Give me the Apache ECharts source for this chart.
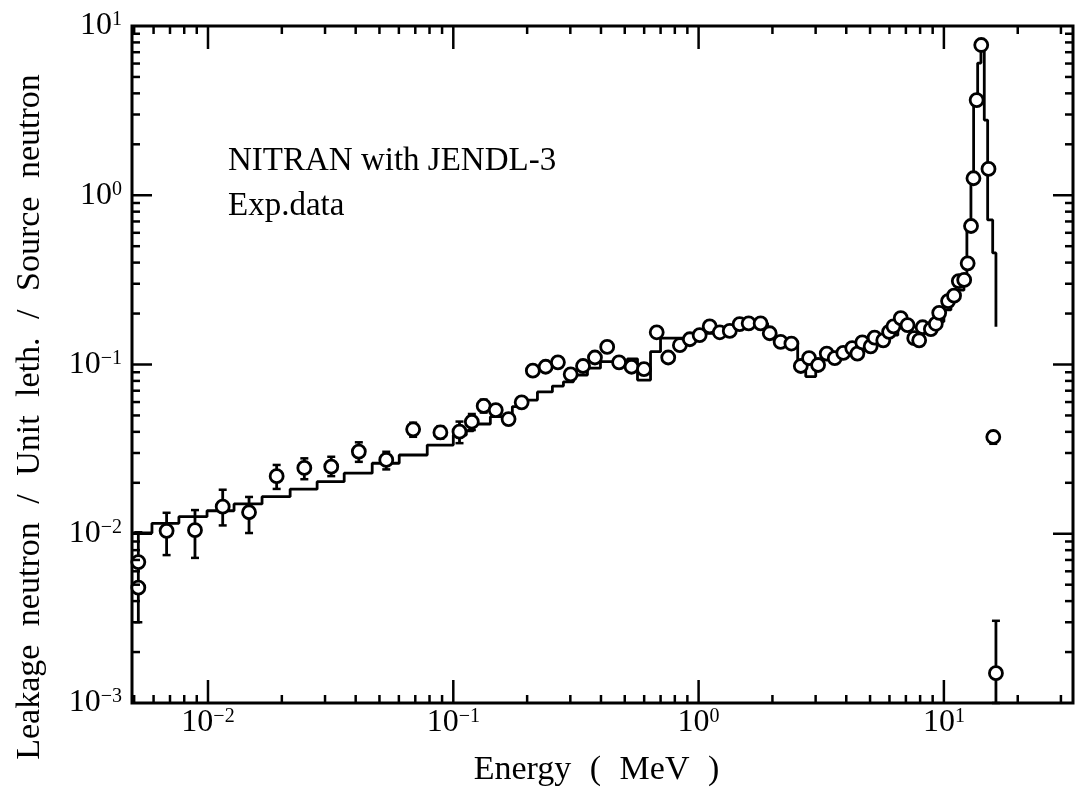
<!DOCTYPE html>
<html><head><meta charset="utf-8">
<script src="https://cdn.jsdelivr.net/npm/echarts@6/dist/echarts.min.js"></script>
<style>html,body{margin:0;padding:0;background:#fff}#c{width:1075px;height:793px}</style>
</head><body><div id="c"></div>
<script>
// Calculation (NITRAN with JENDL-3): histogram bin edges (MeV) and values
const calcEdges = [0.0049,0.00591,0.00761,0.00991,0.01277,0.01661,0.02162,0.02785,0.03591,0.04671,0.0602,0.0783,0.1,0.113,0.1207,0.1416,0.1741,0.1967,0.2203,0.2535,0.2812,0.3089,0.3523,0.3981,0.5131,0.5636,0.6369,0.6996,1.019,1.196,1.39,1.912,2.023,2.374,2.535,2.734,3.003,3.237,3.798,4.457,5.036,5.689,6.491,7.332,8.285,9.104,10.0,10.68,11.41,12.07,12.41,12.89,13.22,13.73,14.16,14.61,15.08,15.81,16.3];
const calcValues = [0.0101,0.01153,0.01262,0.01367,0.0150,0.01656,0.01835,0.0203,0.0228,0.0261,0.0292,0.0334,0.0383,0.0406,0.0445,0.0492,0.0564,0.0616,0.0689,0.0746,0.0790,0.0867,0.0951,0.104,0.108,0.0809,0.119,0.143,0.153,0.160,0.175,0.153,0.140,0.134,0.0993,0.0848,0.102,0.114,0.122,0.130,0.140,0.149,0.164,0.150,0.167,0.179,0.210,0.240,0.275,0.315,0.686,1.28,3.51,6.04,7.52,2.78,0.715,0.456];
const calcTail = 0.167;

// Experimental data
const expE = [0.0052,0.0052,0.00678,0.00885,0.01148,0.0147,0.01905,0.0247,0.0318,0.0412,0.0533,0.0686,0.0886,0.106,0.119,0.133,0.149,0.168,0.190,0.211,0.238,0.267,0.301,0.338,0.378,0.424,0.474,0.533,0.599,0.675,0.752,0.839,0.921,1.01,1.11,1.22,1.34,1.47,1.60,1.79,1.95,2.16,2.39,2.61,2.82,3.07,3.33,3.59,3.89,4.23,4.44,4.65,5.03,5.22,5.66,5.98,6.23,6.67,7.11,7.57,7.93,8.19,8.85,9.27,9.57,10.4,11.0,11.5,12.1,12.5,12.9,13.2,13.6,14.2,15.2,15.9,16.3];
const expV = [0.0068,0.0048,0.0104,0.0105,0.01445,0.0134,0.0219,0.0245,0.0249,0.0306,0.0273,0.0414,0.0397,0.0401,0.0459,0.0569,0.0538,0.0476,0.0598,0.0920,0.097,0.103,0.0875,0.098,0.110,0.127,0.103,0.097,0.0938,0.155,0.110,0.130,0.141,0.149,0.168,0.155,0.158,0.173,0.175,0.175,0.153,0.136,0.133,0.098,0.109,0.0993,0.116,0.109,0.117,0.125,0.116,0.135,0.128,0.144,0.139,0.156,0.168,0.188,0.171,0.143,0.139,0.166,0.162,0.174,0.202,0.237,0.255,0.311,0.316,0.396,0.658,1.26,3.65,7.72,1.43,0.0373,0.0015];

// Error bars
const errE  = [0.0052,0.00678,0.00885,0.01148,0.0147,0.01905,0.0247,0.0318,0.0412,0.0533,0.0686,0.0886,0.106,0.119,0.133,0.599,15.9,16.3];
const errLo = [0.0030,0.00748,0.0072,0.0112,0.0101,0.0184,0.0210,0.0219,0.0266,0.0240,0.0374,0.0365,0.0343,0.041,0.052,0.087,0.034,0.001];
const errHi = [0.0102,0.0133,0.0138,0.0182,0.0165,0.0255,0.0279,0.0285,0.0347,0.0305,0.0453,0.0432,0.046,0.051,0.062,0.101,0.040,0.00306];

// Axis ranges and ticks
const xRange = [0.0049, 33.6];
const yRange = [0.001, 10];
const xMajorTicks = [0.01, 0.1, 1, 10];
const xMinorTicks = [0.005,0.006,0.007,0.008,0.009,0.02,0.03,0.04,0.05,0.06,0.07,0.08,0.09,0.2,0.3,0.4,0.5,0.6,0.7,0.8,0.9,2,3,4,5,6,7,8,9,20,30];
const yMajorTicks = [0.01, 0.1, 1];
const yMinorTicks = [0.002,0.003,0.004,0.005,0.006,0.007,0.008,0.009,0.02,0.03,0.04,0.05,0.06,0.07,0.08,0.09,0.2,0.3,0.4,0.5,0.6,0.7,0.8,0.9,2,3,4,5,6,7,8,9];

const SERIF = 'Liberation Serif';
const calcLine = [];
for (let i = 0; i < calcValues.length; i++) {
  calcLine.push([calcEdges[i], calcValues[i]]);
  calcLine.push([calcEdges[i + 1], calcValues[i]]);
}
calcLine.push([calcEdges[calcEdges.length - 1], calcTail]);

function powLabel(v) {
  const p = Math.round(Math.log10(v));
  if (Math.abs(Math.log10(v) - p) > 1e-6) return '';
  return '{b|10}{s|' + (p < 0 ? '\u2212' + (-p) : p) + '}';
}
const labelRich = {
  b: { fontFamily: SERIF, fontSize: 32, color: '#000' },
  s: { fontFamily: SERIF, fontSize: 20, color: '#000', verticalAlign: 'top' }
};

const tickStyle = { stroke: '#000', lineWidth: 2.5 };
function xTickRender(len) {
  return function (params, api) {
    const v = api.value(0);
    const b = api.coord([v, yRange[0]]);
    const t = api.coord([v, yRange[1]]);
    return { type: 'group', children: [
      { type: 'line', shape: { x1: b[0], y1: b[1], x2: b[0], y2: b[1] - len }, style: tickStyle },
      { type: 'line', shape: { x1: t[0], y1: t[1], x2: t[0], y2: t[1] + len }, style: tickStyle }
    ]};
  };
}
function yTickRender(len) {
  return function (params, api) {
    const v = api.value(1);
    const l = api.coord([xRange[0], v]);
    const r = api.coord([xRange[1], v]);
    return { type: 'group', children: [
      { type: 'line', shape: { x1: l[0], y1: l[1], x2: l[0] + len, y2: l[1] }, style: tickStyle },
      { type: 'line', shape: { x1: r[0], y1: r[1], x2: r[0] - len, y2: r[1] }, style: tickStyle }
    ]};
  };
}
function errRender(params, api) {
  const x = api.value(0);
  const lo = api.coord([x, api.value(1)]);
  const hi = api.coord([x, api.value(2)]);
  const cw = 4;
  return { type: 'group', children: [
    { type: 'line', shape: { x1: lo[0], y1: lo[1], x2: hi[0], y2: hi[1] }, style: { stroke: '#000', lineWidth: 2.8 } },
    { type: 'line', shape: { x1: lo[0] - cw, y1: lo[1], x2: lo[0] + cw, y2: lo[1] }, style: { stroke: '#000', lineWidth: 2.5 } },
    { type: 'line', shape: { x1: hi[0] - cw, y1: hi[1], x2: hi[0] + cw, y2: hi[1] }, style: { stroke: '#000', lineWidth: 2.5 } }
  ]};
}

const chart = echarts.init(document.getElementById('c'), null, { renderer: 'canvas' });
chart.setOption({
  animation: false,
  backgroundColor: '#fff',
  grid: { left: 132, right: 2, top: 26, bottom: 90, show: true, borderColor: '#000', borderWidth: 3, backgroundColor: 'transparent' },
  legend: {
    data: ['NITRAN with JENDL-3', 'Exp.data'],
    orient: 'vertical', left: 218, top: 140, icon: 'none', itemWidth: 0, itemHeight: 32, itemGap: 12,
    selectedMode: false,
    textStyle: { fontFamily: SERIF, fontSize: 33, color: '#000', lineHeight: 32 }
  },
  xAxis: {
    type: 'log', logBase: 10, min: xRange[0], max: xRange[1],
    axisLine: { show: false }, axisTick: { show: false }, splitLine: { show: false },
    axisLabel: { formatter: powLabel, rich: labelRich, margin: 4, showMinLabel: false, showMaxLabel: false },
    name: '{w|Energy} {w|(} {w|MeV} {w|)}', nameLocation: 'middle', nameGap: 50,
    nameTextStyle: { fontFamily: SERIF, fontSize: 34, color: '#000', padding: [0, 12, 0, 0], rich: { w: { fontFamily: SERIF, fontSize: 34, color: '#000', padding: [0, 5] } } }
  },
  yAxis: {
    type: 'log', logBase: 10, min: yRange[0], max: yRange[1],
    axisLine: { show: false }, axisTick: { show: false }, splitLine: { show: false },
    axisLabel: { formatter: powLabel, rich: labelRich, margin: 10 }
  },
  graphic: [{
    type: 'text', x: 30, y: 417, rotation: Math.PI / 2,
    style: {
      text: '{w|Leakage} {w|neutron} {w|/} {w|Unit} {w|leth.} {w|/} {w|Source} {w|neutron}',
      font: '34px "Liberation Serif"', fill: '#000', align: 'center', verticalAlign: 'middle',
      rich: { w: { fontFamily: SERIF, fontSize: 34, fill: '#000', padding: [0, 5] } }
    }
  }],
  series: [
    { type: 'custom', silent: true, renderItem: xTickRender(8), data: xMinorTicks.map(v => [v, yRange[0]]), z: 5 },
    { type: 'custom', silent: true, renderItem: xTickRender(23), data: xMajorTicks.map(v => [v, yRange[0]]), z: 5 },
    { type: 'custom', silent: true, renderItem: yTickRender(8), data: yMinorTicks.map(v => [xRange[0], v]), z: 5 },
    { type: 'custom', silent: true, renderItem: yTickRender(20), data: yMajorTicks.map(v => [xRange[0], v]), z: 5 },
    {
      name: 'NITRAN with JENDL-3', type: 'line', data: calcLine, showSymbol: false, symbol: 'none',
      lineStyle: { color: '#000', width: 2.8 }, itemStyle: { color: '#000' }, z: 2
    },
    { type: 'custom', silent: true, renderItem: errRender, data: errE.map((e, i) => [e, errLo[i], errHi[i]]), z: 3 },
    {
      name: 'Exp.data', type: 'scatter', data: expE.map((e, i) => [e, expV[i]]),
      symbol: 'circle', symbolSize: 13,
      itemStyle: { color: '#fff', borderColor: '#000', borderWidth: 2.8, opacity: 1 }, z: 4
    }
  ]
});
</script>
</body></html>
